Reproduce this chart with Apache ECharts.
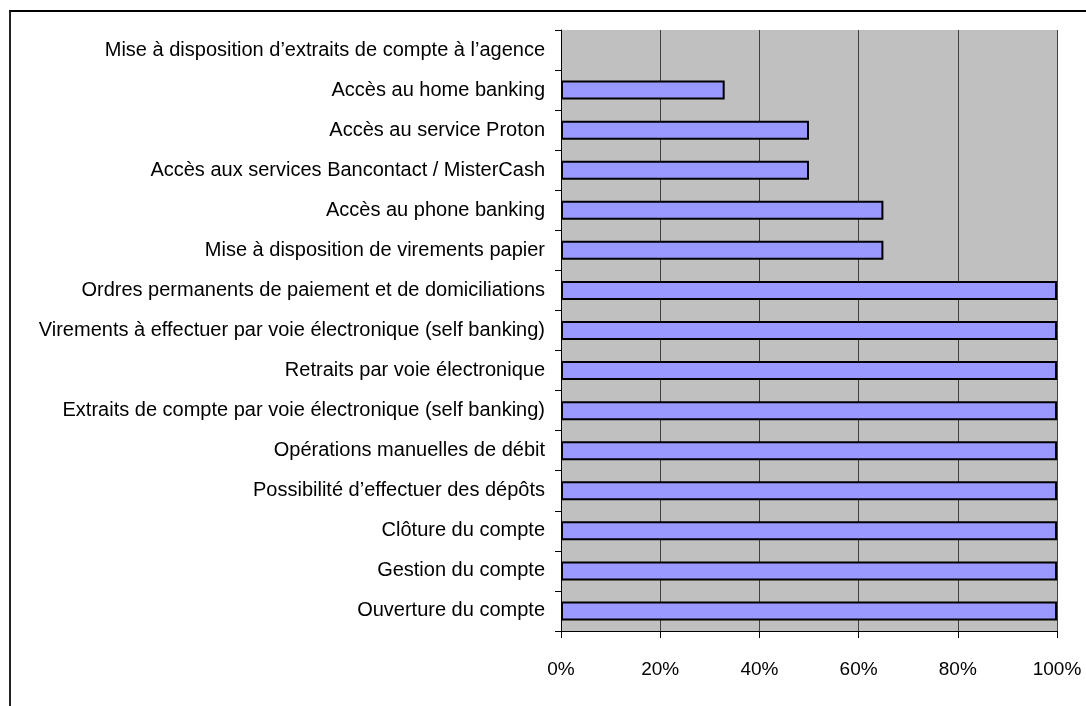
<!DOCTYPE html>
<html>
<head>
<meta charset="utf-8">
<script src="https://cdn.jsdelivr.net/npm/echarts@6/dist/echarts.min.js"></script>
<style>
html,body{margin:0;padding:0;background:#fff;}
#frame{position:absolute;left:9px;top:10px;width:1100px;height:720px;border-left:2px solid #222;border-top:2px solid #000;box-sizing:border-box;}
#chart{position:absolute;left:0;top:0;width:1086px;height:706px;}
</style>
</head>
<body>
<div id="frame"></div>
<div id="chart"></div>
<script>
// categories listed top to bottom
const categories = [
  "Mise à disposition d’extraits de compte à l’agence",
  "Accès au home banking",
  "Accès au service Proton",
  "Accès aux services Bancontact / MisterCash",
  "Accès au phone banking",
  "Mise à disposition de virements papier",
  "Ordres permanents de paiement et de domiciliations",
  "Virements à effectuer par voie électronique (self banking)",
  "Retraits par voie électronique",
  "Extraits de compte par voie électronique (self banking)",
  "Opérations manuelles de débit",
  "Possibilité d’effectuer des dépôts",
  "Clôture du compte",
  "Gestion du compte",
  "Ouverture du compte"
];
const values = [0, 33, 50, 50, 65, 65, 100, 100, 100, 100, 100, 100, 100, 100, 100];
const xTicks = [0, 20, 40, 60, 80, 100];

const chart = echarts.init(document.getElementById('chart'), null, {renderer: 'canvas'});
chart.setOption({
  animation: false,
  backgroundColor: 'transparent',
  textStyle: {fontFamily: 'Liberation Sans, Arial, sans-serif'},
  grid: {
    left: 561, top: 30, width: 496, height: 601,
    show: true, backgroundColor: '#C0C0C0', borderWidth: 0
  },
  xAxis: {
    type: 'value', min: xTicks[0], max: xTicks[xTicks.length - 1], interval: 20,
    axisLine: {show: true, onZero: false, lineStyle: {color: '#000', width: 1}},
    axisTick: {show: true, length: 7, lineStyle: {color: '#000'}},
    axisLabel: {formatter: '{value}%', color: '#000', fontSize: 19, margin: 29,
      fontFamily: 'Liberation Sans, Arial, sans-serif'},
    splitLine: {show: true, lineStyle: {color: '#404040', width: 1}}
  },
  yAxis: {
    type: 'category', data: categories, inverse: true,
    axisLine: {show: true, lineStyle: {color: '#000', width: 1}},
    axisTick: {show: true, length: 6, lineStyle: {color: '#000'}},
    axisLabel: {color: '#000', fontSize: 20, margin: 16,
      fontFamily: 'Liberation Sans, Arial, sans-serif'},
    splitLine: {show: false}
  },
  series: [{
    type: 'bar',
    data: values.map(v => v === 0 ? {value: v, itemStyle: {borderWidth: 0}} : v),
    barWidth: 19,
    itemStyle: {color: '#9999FF', borderColor: '#000', borderWidth: 2}
  }]
});
</script>
</body>
</html>
